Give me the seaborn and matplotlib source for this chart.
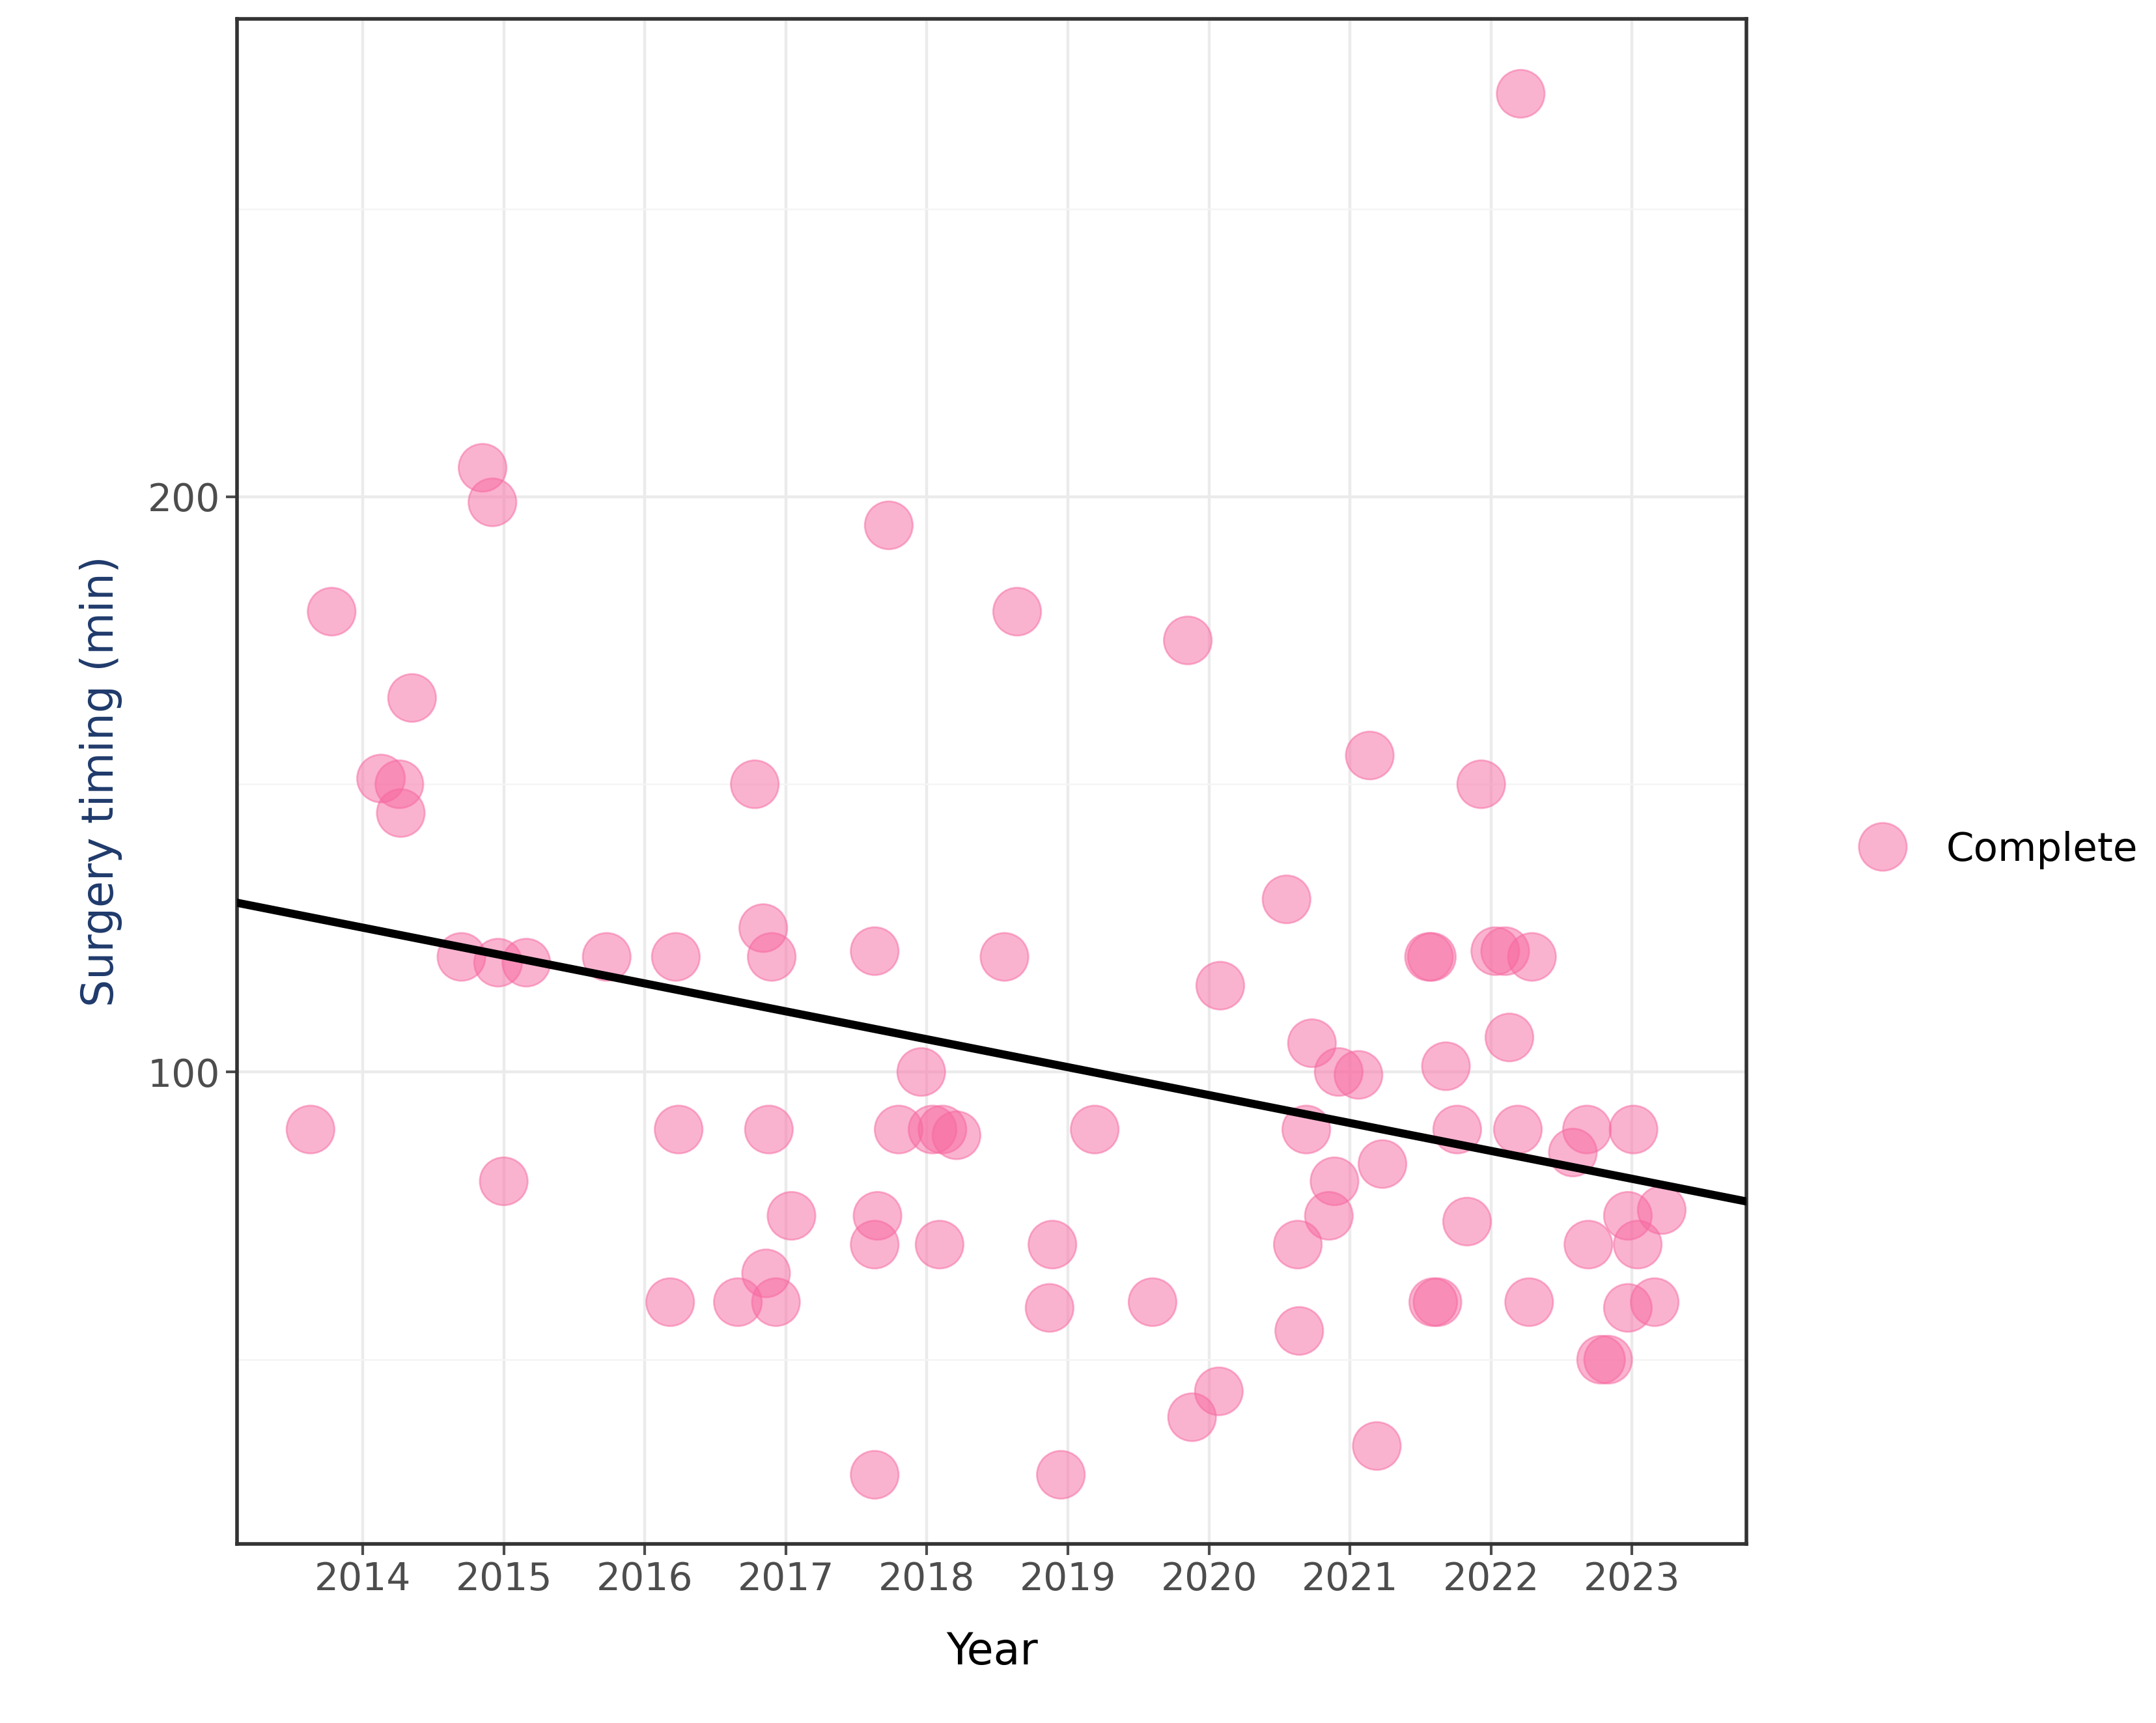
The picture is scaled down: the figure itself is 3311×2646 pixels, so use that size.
import numpy as np
import pandas as pd
import matplotlib
matplotlib.use("Agg")
import matplotlib.pyplot as plt
import seaborn as sns

years = [2013.63,2013.78,2014.13,2014.26,2014.27,2014.35,2014.70,2014.85,2014.92,2014.96,2015.0,2015.16,
         2015.73,2016.18,2016.22,2016.24,2016.66,2016.78,2016.84,2016.86,2016.88,2016.90,2016.93,2017.04,
         2017.63,2017.63,2017.65,2017.63,2017.73,2017.80,2017.96,2018.04,2018.11,2018.21,2018.09,2018.55,
         2018.64,2018.89,2018.87,2018.95,2019.19,2019.60,2019.85,2019.88,2020.07,2020.08,2020.55,2020.63,
         2020.64,2020.73,2020.69,2020.85,2020.89,2020.92,2021.06,2021.14,2021.19,2021.23,2021.56,2021.58,
         2021.59,2021.62,2021.68,2021.76,2021.83,2021.93,2022.03,2022.10,2022.13,2022.19,2022.21,2022.27,
         2022.29,2022.58,2022.68,2022.69,2022.78,2022.83,2023.01,2022.97,2023.04,2022.97,2023.16,2023.21]
timing = [90,180,151,150,145,165,120,205,199,119,81,119,
          120,60,120,90,60,150,125,65,90,120,60,75,
          30,70,75,121,195,90,100,90,90,89,70,120,
          180,70,59,30,90,60,175,40,44.5,115,130,70,
          55,105,90,75,81,100,99.5,155,35,84,120,120,
          60,60,101,90,74,150,121,121,106,90,270,60,
          120,86,90,70,50,50,90,75,70,59,60,76]
group = ["Complete"] * len(years)
trend_x = [2013.11, 2023.81]
trend_y = [129.4, 77.5]
year_ticks = list(range(2014, 2024))
y_ticks = [100, 200]

df = pd.DataFrame({"Year": years, "Timing": timing, "Group": group})
tr = pd.DataFrame({"x": trend_x, "y": trend_y})

fig = plt.figure(figsize=(16.555, 13.23), dpi=200)
ax = fig.add_axes([0.110, 0.104, 0.700, 0.885])
sns.scatterplot(data=df, x="Year", y="Timing", hue="Group", palette={"Complete": "#F768A1"},
                s=700, alpha=0.5, edgecolor="#F768A1", linewidth=1, ax=ax, zorder=3)
sns.lineplot(data=tr, x="x", y="y", color="black", linewidth=4.5, ax=ax, zorder=4, legend=False)
ax.set_xlim(2013.11, 2023.81)
ax.set_ylim(18, 283)
ax.set_xticks(year_ticks)
ax.set_yticks(y_ticks)
ax.set_yticks([50, 150, 250], minor=True)
ax.grid(True, which="major", color="#EBEBEB", linewidth=1.6, zorder=0)
ax.grid(True, which="minor", axis="y", color="#F5F5F5", linewidth=0.9, zorder=0)
ax.set_axisbelow(True)
ax.tick_params(which="major", labelsize=21, colors="#4D4D4D", length=6, width=1.5)
ax.tick_params(which="minor", length=0)
for s in ax.spines.values():
    s.set_color("#333333"); s.set_linewidth(2)
ax.set_xlabel("Year", fontsize=24, labelpad=18)
ax.set_ylabel("Surgery timing (min)", fontsize=24, color="#1F3A6B", labelpad=14)
h, l = ax.get_legend_handles_labels()
ax.legend(h, l, loc="center left", bbox_to_anchor=(1.04, 0.455), frameon=False,
          fontsize=22, markerscale=1.0, handletextpad=0.6)
fig.savefig("out.png", dpi=200)
